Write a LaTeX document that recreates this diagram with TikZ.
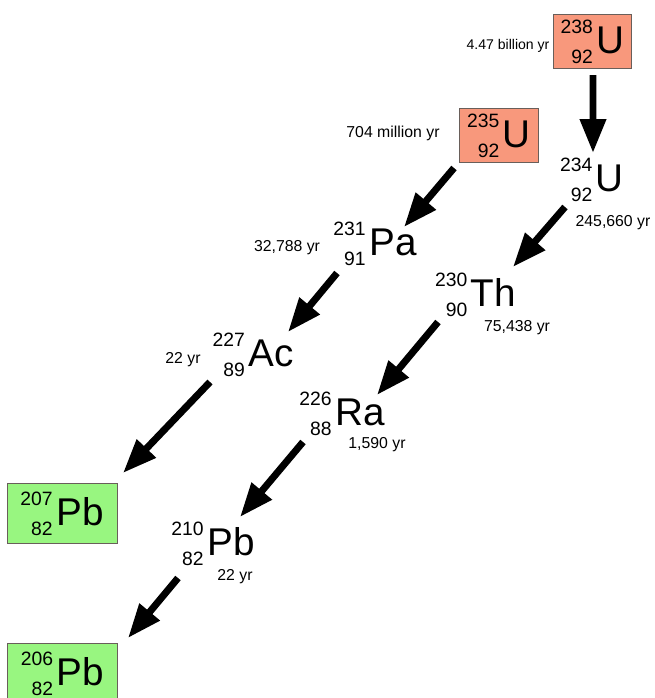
\documentclass[tikz,border=0pt]{standalone}
\usepackage{fontspec}
\setmainfont{Liberation Sans}
\usetikzlibrary{arrows.meta}
\definecolor{uranium}{RGB}{248,152,124}
\definecolor{lead}{RGB}{152,246,128}
\definecolor{frame}{RGB}{105,95,90}
\newcommand{\nuc}[3]{\raisebox{2.5pt}{\fontsize{11}{11}\selectfont\begin{tabular}[c]{@{}r@{}}#1\\[6.5pt]#2\end{tabular}}\kern2pt{\fontsize{22}{22}\selectfont#3}}

\begin{document}
\begin{tikzpicture}[x=0.02cm,y=-0.02cm,
  nuclide/.style={inner sep=0pt,text height=20pt,text depth=5.4pt},
  parent/.style={nuclide,draw=frame,fill=uranium,minimum width=1.57cm,minimum height=1.08cm},
  stable/.style={nuclide,draw=frame,fill=lead,minimum width=2.2cm,minimum height=1.2cm},
  halflife/.style={font=\fontsize{9}{9}\selectfont},
  decay/.style={-{Triangle[length=0.68cm,width=0.5cm]},line width=0.14cm},
  ]
  \useasboundingbox (0,0) rectangle (655,698);
  % nuclides
  \node[parent] (u238) at (592.5,41) {\nuc{238}{92}{U}};
  \node[parent] (u235) at (499,135) {\nuc{235}{92}{U}};
  \node[nuclide] (u234) at (592,179) {\nuc{234}{92}{U}};
  \node[nuclide] (pa231) at (375,243) {\nuc{231}{91}{Pa}};
  \node[nuclide] (th230) at (475.5,294) {\nuc{230}{90}{Th}};
  \node[nuclide] (ac227) at (253,354) {\nuc{227}{89}{Ac}};
  \node[nuclide] (ra226) at (342,413) {\nuc{226}{88}{Ra}};
  \node[nuclide] (pb210) at (213,543) {\nuc{210}{82}{Pb}};
  \node[stable] (pb207) at (62,513) {\nuc{207}{82}{Pb}};
  \node[stable] (pb206) at (62.5,673) {\nuc{206}{82}{Pb}};
  % half-lives
  \node[halflife,font=\fontsize{8}{8}\selectfont] (t-u238) at (508,46) {4.47 billion yr};
  \node[halflife] (t-u235) at (393,133) {704 million yr};
  \node[halflife] (t-u234) at (613,223) {245,660 yr};
  \node[halflife] (t-pa231) at (287,248) {32,788 yr};
  \node[halflife] (t-th230) at (517,328) {75,438 yr};
  \node[halflife] (t-ac227) at (183,360) {22 yr};
  \node[halflife] (t-ra226) at (377,445) {1,590 yr};
  \node[halflife] (t-pb210) at (235,577) {22 yr};
  % decays
  \draw[decay] ([shift={(0.5,34)}]u238.center) -- ([shift={(1,-26)}]u234.center);
  \draw[decay] ([shift={(-45,33)}]u235.center) -- ([shift={(29,-16)}]pa231.center);
  \draw[decay] ([shift={(-27,28)}]u234.center) -- ([shift={(37.5,-27)}]th230.center);
  \draw[decay] ([shift={(-38,30)}]pa231.center) -- ([shift={(35,-22)}]ac227.center);
  \draw[decay] ([shift={(-37.5,28)}]th230.center) -- ([shift={(35,-18)}]ra226.center);
  \draw[decay] ([shift={(-43,28)}]ac227.center) -- ([shift={(61,-40)}]pb207.center);
  \draw[decay] ([shift={(-39,29)}]ra226.center) -- ([shift={(27,-26)}]pb210.center);
  \draw[decay] ([shift={(-35,35)}]pb210.center) -- ([shift={(65.5,-35)}]pb206.center);
\end{tikzpicture}
\end{document}
